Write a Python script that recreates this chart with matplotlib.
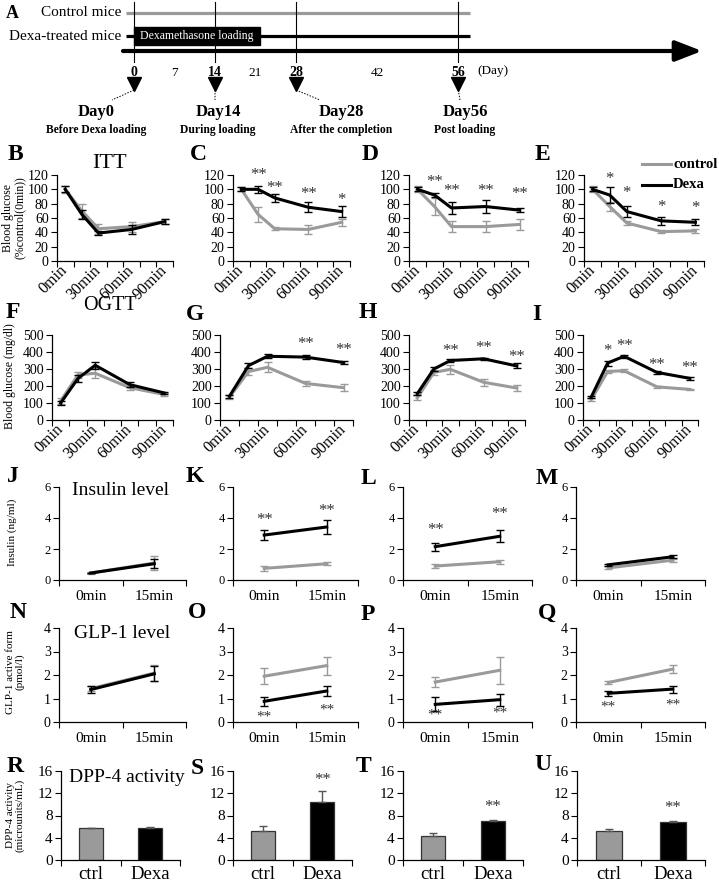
import matplotlib
matplotlib.use('Agg')
import matplotlib.pyplot as plt
from matplotlib.lines import Line2D
from matplotlib.patches import Rectangle
from matplotlib.transforms import ScaledTranslation
import numpy as np

plt.rcParams['font.family'] = ['Liberation Serif', 'DejaVu Serif']

# ---------------- data ----------------
# timeline
timeline_ticks = [0, 7, 14, 21, 28, 42, 56]
key_days = [0, 14, 28, 56]
key_titles = ['Day0', 'Day14', 'Day28', 'Day56']
key_subtitles = ['Before Dexa loading', 'During loading', 'After the completion', 'Post loading']
loading_days = [0, 21.8]
study_days = [-1.4, 58.0]

# ITT (% of 0 min)
itt_t = [0, 15, 30, 60, 90]
itt_labels = ['0min', '30min', '60min', '90min']
itt_ctrl = [[100, 70, 45, 48, 55], [100, 65, 45, 44, 54], [100, 76, 48, 48, 51], [100, 76, 53, 41, 42]]
itt_ctrl_err = [[5, 10, 7, 7, 4], [3, 11, 2, 6, 5], [4, 12, 8, 8, 8], [4, 6, 3, 2, 3]]
itt_dexa = [[100, 65, 39, 44, 55], [100, 100, 88, 75, 69], [100, 92, 74, 76, 71], [100, 92, 69, 56, 54]]
itt_dexa_err = [[4, 6, 3, 6, 4], [3, 5, 6, 7, 8], [3, 3, 8, 9, 3], [3, 11, 8, 6, 4]]
itt_stars = [['', '', '', '', ''], ['', '**', '**', '**', '*'], ['', '**', '**', '**', '**'], ['', '*', '*', '*', '*']]

# OGTT (mg/dl)
ogtt_ctrl = [[112, 265, 275, 190, 150], [135, 285, 310, 215, 190], [130, 280, 298, 222, 188], [120, 285, 290, 195, 180]]
ogtt_ctrl_err = [[15, 20, 30, 12, 10], [12, 20, 30, 15, 20], [15, 15, 25, 20, 15], [8, 10, 8, 5, 3]]
ogtt_dexa = [[100, 244, 322, 208, 159], [140, 320, 375, 370, 338], [155, 300, 350, 360, 318], [135, 335, 375, 280, 245]]
ogtt_dexa_err = [[10, 20, 20, 15, 8], [10, 15, 12, 10, 10], [10, 10, 8, 5, 15], [8, 15, 10, 10, 10]]
ogtt_stars = [['', '', '', '', ''], ['', '', '', '**', '**'], ['', '', '**', '**', '**'], ['', '*', '**', '**', '**']]

# Insulin (ng/ml)
two_labels = ['0min', '15min']
ins_ctrl = [[0.45, 1.10], [0.75, 1.05], [0.90, 1.18], [0.78, 1.28]]
ins_ctrl_err = [[0.05, 0.45], [0.15, 0.08], [0.12, 0.12], [0.10, 0.10]]
ins_dexa = [[0.45, 1.05], [2.90, 3.42], [2.15, 2.82], [0.98, 1.50]]
ins_dexa_err = [[0.03, 0.30], [0.35, 0.45], [0.25, 0.40], [0.08, 0.10]]
ins_stars = [['', ''], ['**', '**'], ['**', '**'], ['', '']]

# GLP-1 (pmol/l)
glp_ctrl = [[1.42, 2.08], [1.95, 2.40], [1.70, 2.20], [1.68, 2.25]]
glp_ctrl_err = [[0.12, 0.35], [0.33, 0.38], [0.20, 0.58], [0.08, 0.18]]
glp_dexa = [[1.38, 2.05], [0.88, 1.32], [0.75, 0.95], [1.22, 1.40]]
glp_dexa_err = [[0.15, 0.32], [0.20, 0.22], [0.30, 0.25], [0.10, 0.15]]
glp_stars = [['', ''], ['**', '**'], ['**', '**'], ['**', '**']]

# DPP-4 activity (microunits/mL)
bar_labels = ['ctrl', 'Dexa']
dpp_ctrl = [5.7, 5.2, 4.3, 5.3]
dpp_ctrl_err = [0.05, 1.0, 0.55, 0.25]
dpp_dexa = [5.75, 10.4, 7.1, 6.9]
dpp_dexa_err = [0.2, 2.0, 0.15, 0.1]
dpp_stars = ['', '**', '**', '**']

# ---------------- layout (pixels) ----------------
W, H = 719, 885
fig = plt.figure(figsize=(W / 100, H / 100), dpi=100)
GRAY = '#9a9a9a'
STAR = '#333333'

itt_star_y = [[0] * 5, [0, 120, 102, 93, 85], [0, 110, 98, 98, 94], [0, 115, 95, 76, 74]]
ogtt_star_y = [[0] * 5, [0, 0, 0, 450, 411], [0, 0, 405, 425, 372], [0, 405, 437, 326, 306]]
ins_star_y = [[0, 0], [3.84, 4.45], [3.24, 4.28], [0, 0]]
glp_star_y = [[0, 0], [0.23, 0.51], [0.3, 0.4], [0.64, 0.72]]
dpp_star_y = [0, 14.4, 9.5, 9.4]


def box(l, t, r, b):
    return fig.add_axes([l / W, 1 - b / H, (r - l) / W, (b - t) / H])


def ftext(x, y, s, **kw):
    return fig.text(x / W, 1 - y / H, s, **kw)


def style(ax, ysize):
    for s in ['top', 'right']:
        ax.spines[s].set_visible(False)
    for s in ['left', 'bottom']:
        ax.spines[s].set_linewidth(0.9)
    ax.tick_params(axis='y', direction='out', length=4, width=0.8, labelsize=ysize, pad=2)
    ax.patch.set_alpha(0)


def line_panel(ax, x, c, ce, d, de, stars, star_y, ysize, ssize):
    ax.errorbar(x, c, yerr=ce, color=GRAY, lw=2.2, elinewidth=1.0, capsize=3, capthick=1.0, zorder=2)
    ax.errorbar(x, d, yerr=de, color='black', lw=2.2, elinewidth=1.0, capsize=3, capthick=1.0, zorder=3)
    for xi, s, yy in zip(x, stars, star_y):
        if s:
            ax.text(xi, yy, s, ha='center', va='center', fontsize=ssize, color=STAR)
    style(ax, ysize)


# ---------------- Panel A: timeline ----------------
px0, ppd = 134.0, 5.79  # pixel of day 0, pixels per day
ax0 = fig.add_axes([0, 1 - 140 / H, 1, 140 / H])
ax0.set_xlim(-px0 / ppd, (W - px0) / ppd)
ax0.set_ylim(140, 0)
ax0.axis('off')


def dpx(p):
    return (p - px0) / ppd


ax0.plot(study_days, [13, 13], color=GRAY, lw=2.3, solid_capstyle='butt')
ax0.plot(study_days, [36, 36], color='black', lw=2.3, solid_capstyle='butt')
ax0.add_patch(Rectangle((loading_days[0], 27), loading_days[1] - loading_days[0], 18, color='black'))
ax0.text(np.mean(loading_days), 36, 'Dexamethasone loading', color='white', ha='center', va='center', fontsize=8.5)
ax0.annotate('', xy=(dpx(702), 51), xytext=(dpx(123), 51),
             arrowprops=dict(arrowstyle='-|>,head_length=0.9,head_width=0.35', lw=3, color='black',
                             mutation_scale=18, shrinkA=0, shrinkB=0))
for d in key_days:
    ax0.plot([d, d], [2, 62], color='black', lw=0.8)
    ax0.plot([d], [84], marker='v', color='black', markersize=10)
for d in timeline_ticks:
    bold = d in key_days
    ax0.text(d, 73, str(d), ha='center', va='center', fontsize=10 if bold else 9.5,
             fontweight='bold' if bold else 'normal')
ax0.text(dpx(493), 71, '(Day)', ha='center', va='center', fontsize=9.5)
ax0.text(dpx(121), 13, 'Control mice', ha='right', va='center', fontsize=11)
ax0.text(dpx(121), 36, 'Dexa-treated mice', ha='right', va='center', fontsize=11)
ax0.text(dpx(12), 13, 'A', ha='center', va='center', fontsize=13, fontweight='bold')
label_cx = [dpx(96), dpx(218), dpx(341), dpx(465)]
conn_end = [dpx(112), dpx(215), dpx(320), dpx(460)]
for d, cx, ce, t1, t2 in zip(key_days, label_cx, conn_end, key_titles, key_subtitles):
    ax0.plot([d, ce], [90, 100], color='black', lw=0.7, ls=(0, (1.5, 1.5)))
    ax0.text(cx, 112, t1, ha='center', va='center', fontsize=12, fontweight='bold')
    ax0.text(cx, 130, t2, ha='center', va='center', fontsize=8.4, fontweight='bold')

# ---------------- rows ----------------
row1 = [(57, 173), (233, 350), (409, 528), (584, 704)]
row2 = [(52, 173), (220, 353), (409, 525), (583, 698)]
row3 = [(59, 186), (233, 358), (403, 532), (576, 705)]
row5 = [(61, 180), (233, 352), (403, 523), (577, 705)]

letters = [
    ['B', 'C', 'D', 'E'], ['F', 'G', 'H', 'I'], ['J', 'K', 'L', 'M'], ['N', 'O', 'P', 'Q'], ['R', 'S', 'T', 'U']]
letter_pos = [
    [(15, 155), (198, 155), (370, 155), (542, 155)],
    [(13, 313), (195, 315), (368, 313), (537, 315)],
    [(13, 476), (195, 476), (368, 478), (547, 478)],
    [(18, 613), (197, 613), (368, 615), (547, 613)],
    [(15, 767), (197, 768), (364, 767), (543, 764)],
]
for r in range(5):
    for c in range(4):
        x, y = letter_pos[r][c]
        ftext(x, y, letters[r][c], ha='center', va='center', fontsize=17, fontweight='bold')

minor15 = np.arange(-7.5, 98, 15)
shift = ScaledTranslation(4 / 72, 0, fig.dpi_scale_trans)


def time_axis(ax):
    ax.set_xlim(-7.5, 97.5)
    ax.set_xticks([0, 30, 60, 90])
    ax.set_xticklabels(itt_labels, rotation=45, ha='right', va='center', rotation_mode='anchor', fontsize=11.5)
    for lbl in ax.get_xticklabels():
        lbl.set_transform(lbl.get_transform() + shift)
    ax.set_xticks(minor15, minor=True)
    ax.tick_params(axis='x', which='major', length=0, pad=5)
    ax.tick_params(axis='x', which='minor', length=4, width=0.8, direction='out')


def two_axis(ax, labels, size, pad):
    ax.set_xlim(-0.5, 1.5)
    ax.set_xticks([0, 1])
    ax.set_xticklabels(labels, fontsize=size)
    ax.set_xticks([-0.5, 0.5, 1.5], minor=True)
    ax.tick_params(axis='x', which='major', length=0, pad=pad)
    ax.tick_params(axis='x', which='minor', length=4, width=0.8, direction='out')


# Row 1: ITT
for i, (l, r) in enumerate(row1):
    ax = box(l, 175, r, 261)
    line_panel(ax, itt_t, itt_ctrl[i], itt_ctrl_err[i], itt_dexa[i], itt_dexa_err[i],
               itt_stars[i], itt_star_y[i], 10, 12)
    ax.set_ylim(0, 120)
    ax.set_yticks(range(0, 121, 20))
    time_axis(ax)

# Row 2: OGTT
for i, (l, r) in enumerate(row2):
    ax = box(l, 335, r, 420)
    line_panel(ax, itt_t, ogtt_ctrl[i], ogtt_ctrl_err[i], ogtt_dexa[i], ogtt_dexa_err[i],
               ogtt_stars[i], ogtt_star_y[i], 10, 12)
    ax.set_ylim(0, 500)
    ax.set_yticks(range(0, 501, 100))
    time_axis(ax)

# Row 3: insulin
for i, (l, r) in enumerate(row3):
    ax = box(l, 487, r, 580)
    line_panel(ax, [0, 1], ins_ctrl[i], ins_ctrl_err[i], ins_dexa[i], ins_dexa_err[i],
               ins_stars[i], ins_star_y[i], 9, 12)
    ax.set_ylim(0, 6)
    ax.set_yticks([0, 2, 4, 6])
    two_axis(ax, two_labels, 11, 7)

# Row 4: GLP-1
for i, (l, r) in enumerate(row3):
    ax = box(l, 628, r, 722)
    line_panel(ax, [0, 1], glp_ctrl[i], glp_ctrl_err[i], glp_dexa[i], glp_dexa_err[i],
               glp_stars[i], glp_star_y[i], 10, 11)
    ax.set_ylim(0, 4)
    ax.set_yticks([0, 1, 2, 3, 4])
    two_axis(ax, two_labels, 11, 7)

# Row 5: DPP-4
for i, (l, r) in enumerate(row5):
    ax = box(l, 771, r, 860)
    vals = [dpp_ctrl[i], dpp_dexa[i]]
    errs = [[0, 0], [dpp_ctrl_err[i], dpp_dexa_err[i]]]
    ax.bar([0, 1], vals, width=0.4, color=[GRAY, 'black'], edgecolor='#333333', linewidth=0.9,
           yerr=errs, error_kw=dict(ecolor='#555555', elinewidth=1, capsize=3, capthick=1))
    if dpp_stars[i]:
        ax.text(1, dpp_star_y[i], dpp_stars[i], ha='center', va='center', fontsize=12, color=STAR)
    style(ax, 11)
    ax.set_ylim(0, 16)
    ax.set_yticks([0, 4, 8, 12, 16])
    two_axis(ax, bar_labels, 13.5, 4)

# panel titles
ftext(110, 163, 'ITT', ha='center', va='center', fontsize=16)
ftext(110, 306, 'OGTT', ha='center', va='center', fontsize=14.5)
ftext(120, 491, 'Insulin level', ha='center', va='center', fontsize=14)
ftext(122, 633, 'GLP-1 level', ha='center', va='center', fontsize=14)
ftext(127, 778, 'DPP-4 activity', ha='center', va='center', fontsize=14)

# y labels
ftext(14, 218, 'Blood glucose\n(%control(0min))', rotation=90, ha='center', va='center', fontsize=8.5,
      linespacing=1.0)
ftext(10, 376, 'Blood glucose (mg/dl)', rotation=90, ha='center', va='center', fontsize=8.5)
ftext(12, 532, 'Insulin (ng/ml)', rotation=90, ha='center', va='center', fontsize=8)
ftext(15, 672, 'GLP-1 active form\n(pmol/l)', rotation=90, ha='center', va='center', fontsize=8,
      linespacing=1.0)
ftext(15, 815, 'DPP-4 activity\n(microunits/mL)', rotation=90, ha='center', va='center', fontsize=8,
      linespacing=1.0)

# legend in E
fig.add_artist(Line2D([642 / W, 671 / W], [1 - 164 / H, 1 - 164 / H], color=GRAY, lw=2.2))
fig.add_artist(Line2D([642 / W, 671 / W], [1 - 185 / H, 1 - 185 / H], color='black', lw=2.2))
ftext(673, 164, 'control', ha='left', va='center', fontsize=10.5, fontweight='bold')
ftext(673, 185, 'Dexa', ha='left', va='center', fontsize=10.5, fontweight='bold')

fig.savefig('out.png', dpi=100)
